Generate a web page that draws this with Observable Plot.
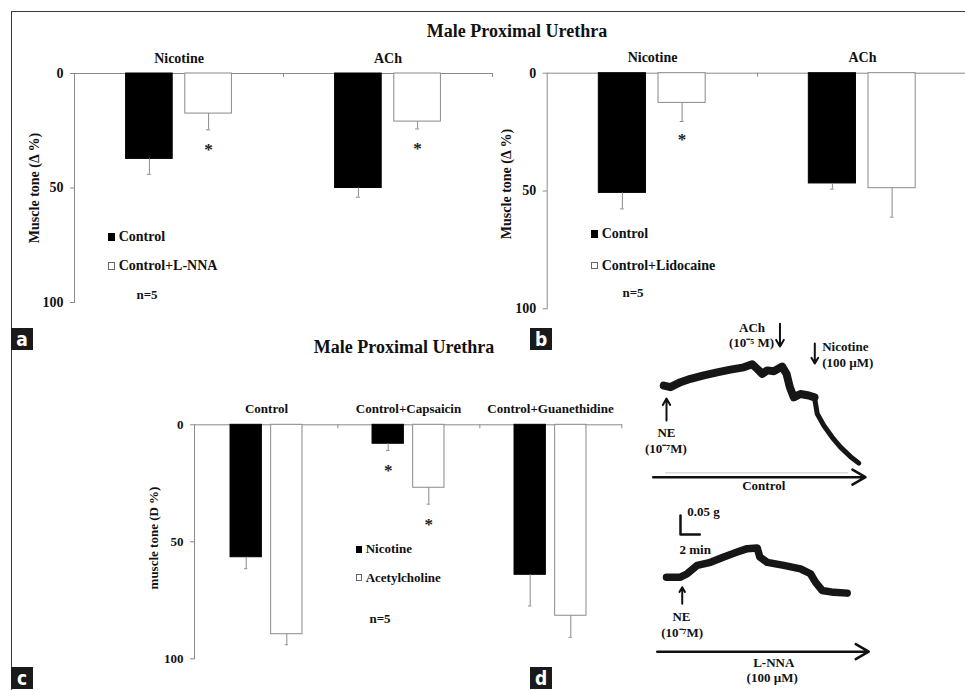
<!DOCTYPE html>
<html><head><meta charset="utf-8">
<script src="https://cdn.jsdelivr.net/npm/d3@7"></script>
<script src="https://cdn.jsdelivr.net/npm/@observablehq/plot@0.6"></script>
<style>
html,body{margin:0;padding:0;background:#fff;}
#fig{position:relative;width:965px;height:690px;overflow:hidden;font-family:"Liberation Serif","Times New Roman",serif;font-weight:bold;color:#111;background:#fff;}
.abs{position:absolute;}
.title{font-size:18px;white-space:nowrap;transform:translate(-50%,-50%);}
.ytitle{white-space:nowrap;transform:translate(-50%,-50%) rotate(-90deg);}
.leg{display:flex;align-items:center;white-space:nowrap;transform:translateY(-50%);}
.ctr{white-space:nowrap;transform:translate(-50%,-50%);}
.sw{display:inline-block;box-sizing:border-box;}
.plab{background:#1a1a1a;color:#fff;font-family:"Liberation Sans Narrow","DejaVu Sans Condensed",Roboto,sans-serif;font-weight:bold;font-size:19px;width:22px;height:22px;text-align:center;line-height:23px;}
</style>
</head><body>
<div id="fig"></div>
<script>
// ---------- Panel a data ----------
const aCategories = ["Nicotine", "ACh"];
const aSeries = ["Control", "Control+L-NNA"];
const aControlMean = [37.3, 50.0];
const aControlSem = [6.7, 4.0];
const aLnnaMean = [17.5, 21.0];
const aLnnaSem = [7.1, 3.2];
const aLnnaStar = [true, true];

// ---------- Panel b data ----------
const bCategories = ["Nicotine", "ACh"];
const bSeries = ["Control", "Control+Lidocaine"];
const bControlMean = [50.8, 46.8];
const bControlSem = [6.8, 2.4];
const bLidoMean = [12.6, 48.8];
const bLidoSem = [7.9, 12.3];
const bLidoStar = [true, false];

// ---------- Panel c data ----------
const cCategories = ["Control", "Control+Capsaicin", "Control+Guanethidine"];
const cSeries = ["Nicotine", "Acetylcholine"];
const cNicMean = [56.6, 8.1, 64.1];
const cNicSem = [4.9, 2.9, 13.3];
const cNicStar = [false, true, false];
const cAchMean = [89.5, 26.9, 81.6];
const cAchSem = [4.5, 7.0, 9.2];
const cAchStar = [false, true, false];

const yTicks = [0, 50, 100];

// ---------- Panel d traces (time in min, tension in g) ----------
const ctrlTime = [0, 0.69, 1.73, 2.77, 4.15, 5.53, 6.91, 8.29, 9.16, 9.68, 10.2, 10.72, 11.4, 12.27, 12.72, 13.06, 13.47, 14.16, 15.03, 15.62, 15.9, 16.58, 17.45, 18.31, 19.35, 20.21];
const ctrlTension = [0.205, 0.201, 0.214, 0.223, 0.232, 0.240, 0.247, 0.253, 0.261, 0.249, 0.236, 0.245, 0.243, 0.255, 0.236, 0.201, 0.174, 0.183, 0.179, 0.174, 0.131, 0.100, 0.069, 0.043, 0.018, 0.001];
const lnnaTime = [0, 1.45, 2.15, 3.18, 4.56, 5.94, 7.33, 8.36, 9.4, 9.67, 10.44, 12.16, 13.89, 14.92, 15.44, 16.13, 17.34, 18.73];
const lnnaTension = [0.043, 0.043, 0.052, 0.074, 0.082, 0.096, 0.109, 0.118, 0.120, 0.096, 0.082, 0.074, 0.065, 0.052, 0.030, 0.008, 0.003, 0.001];
const scaleBarMin = 2;
const scaleBarG = 0.05;

// ---------- helpers ----------
const gray = "#8a8a8a";
const fig = document.getElementById("fig");
function place(el, left, top) { el.style.position = "absolute"; el.style.left = left + "px"; el.style.top = top + "px"; fig.appendChild(el); return el; }
function div(cls, html, left, top, extra) { const d = document.createElement("div"); d.className = "abs " + cls; d.innerHTML = html; if (extra) Object.assign(d.style, extra); return place(d, left, top); }

function rowsOf(categories, series, means, sems, stars) {
  const rows = [];
  series.forEach((s, si) => categories.forEach((c, ci) => rows.push({cat: c, series: s, mean: means[si][ci], sem: sems[si][ci], star: stars[si][ci]})));
  return rows;
}

function barPanel(cfg) {
  const {rows, categories, series, bw, offsets, fs, width, height, mt, mr, mb, ml, starDy, labelPad} = cfg;
  const W = (width - ml - mr) / categories.length;
  const marks = [
    Plot.ruleY([0], {stroke: gray}),
    Plot.frame({anchor: "left", stroke: gray}),
    Plot.ruleX(categories, {x: d => d, y1: 0, y2: 1.7, dx: W / 2, stroke: gray})
  ];
  series.forEach((s, i) => {
    const sub = rows.filter(r => r.series === s);
    const off = offsets[i];
    const filled = i === 0;
    marks.push(
      Plot.barY(sub, {x: "cat", y1: 0, y2: "mean", insetLeft: W / 2 + off - bw / 2, insetRight: W / 2 - off - bw / 2,
        fill: filled ? "#000" : "#fff", stroke: filled ? "#000" : gray, strokeWidth: 1}),
      Plot.ruleX(sub, {x: "cat", y1: "mean", y2: d => d.mean + d.sem, dx: off, stroke: gray}),
      Plot.tickY(sub, {x: "cat", y: d => d.mean + d.sem, insetLeft: W / 2 + off - 2, insetRight: W / 2 - off - 2, stroke: gray}),
      Plot.text(sub.filter(r => r.star), {x: "cat", y: d => d.mean + d.sem, dx: off, dy: starDy, text: () => "*", fontSize: 17, fill: "#222"})
    );
  });
  marks.push(
    Plot.axisX({anchor: "top", tickSize: 0, tickPadding: labelPad, fontSize: fs, fontWeight: "bold", label: null, fill: "#111"}),
    Plot.axisY({ticks: yTicks, tickSize: 4, tickPadding: 7, fontSize: fs, fontWeight: "bold", label: null, stroke: gray, fill: "#111"})
  );
  return Plot.plot({
    width, height, marginTop: mt, marginRight: mr, marginBottom: mb, marginLeft: ml,
    style: "font-family:'Liberation Serif',serif;font-weight:bold;overflow:visible;background:transparent;",
    x: {domain: categories, padding: 0},
    y: {domain: [0, 100], reverse: true},
    marks
  });
}

// ---------- Panel a ----------
place(barPanel({
  rows: rowsOf(aCategories, aSeries, [aControlMean, aLnnaMean], [aControlSem, aLnnaSem], [[false, false], aLnnaStar]),
  categories: aCategories, series: aSeries, bw: 46.6, offsets: [-29.6, 29.6], fs: 14,
  width: 500, height: 275, mt: 33, mr: 8, mb: 13, ml: 74, starDy: 20, labelPad: 11
}), 0, 40);

// ---------- Panel b ----------
place(barPanel({
  rows: rowsOf(bCategories, bSeries, [bControlMean, bLidoMean], [bControlSem, bLidoSem], [[false, false], bLidoStar]),
  categories: bCategories, series: bSeries, bw: 47.3, offsets: [-30.1, 29.6], fs: 14,
  width: 477, height: 283, mt: 32.7, mr: 0, mb: 14.7, ml: 56.7, starDy: 18, labelPad: 11
}), 490, 40);

// ---------- Panel c ----------
place(barPanel({
  rows: rowsOf(cCategories, cSeries, [cNicMean, cAchMean], [cNicSem, cAchSem], [cNicStar, cAchStar]),
  categories: cCategories, series: cSeries, bw: 32, offsets: [-20.3, 20.3], fs: 13,
  width: 530, height: 300, mt: 44.3, mr: 8, mb: 21.7, ml: 94, starDy: 20, labelPad: 11.5
}), 100, 380);

// ---------- Panel d: control trace ----------
const ctrlRows = ctrlTime.map((t, i) => ({t, g: ctrlTension[i]}));
const lnnaRows = lnnaTime.map((t, i) => ({t, g: lnnaTension[i]}));
const split = ctrlTime.indexOf(15.62);
const traceStyle = "font-family:'Liberation Serif',serif;font-weight:bold;overflow:visible;background:transparent;";
const lineOpts = {x: "t", y: "g", stroke: "#161616", strokeLinejoin: "round", strokeLinecap: "round"};

place(Plot.plot({
  width: 325, height: 180, marginLeft: 23.3, marginRight: 106.7, marginTop: 34, marginBottom: 32,
  style: traceStyle,
  x: {domain: [0, 20.21], axis: null}, y: {domain: [0, 0.3], axis: null},
  marks: [
    Plot.ruleY([{g: -0.0245}], {y: "g", x1: 0.18, x2: 19.14, stroke: "#dcdcdc", strokeWidth: 1.5}),
    Plot.arrow([{a: -1.10, b: 20.9, g: -0.036}], {x1: "a", x2: "b", y1: "g", y2: "g", stroke: "#111", strokeWidth: 2.5, headLength: 9}),
    Plot.line(ctrlRows.slice(0, split + 1), {...lineOpts, strokeWidth: 8}),
    Plot.line(ctrlRows.slice(split), {...lineOpts, strokeWidth: 5}),
    Plot.arrow([{t: 0.28, a: 0.113, b: 0.171}, {t: 12.04, a: 0.368, b: 0.308}, {t: 15.65, a: 0.316, b: 0.263}],
      {x1: "t", x2: "t", y1: "a", y2: "b", stroke: "#111", strokeWidth: 2, headLength: 7}),
    Plot.text([{t: 0.28, g: 0.080, s: "NE"}, {t: 0.21, g: 0.039, s: "(10⁻⁷M)"}, {t: 9.14, g: 0.358, s: "ACh"}, {t: 9.09, g: 0.318, s: "(10⁻⁵ M)"}, {t: 10.36, g: -0.060, s: "Control"}],
      {x: "t", y: "g", text: "s", fontSize: 13, fill: "#111"}),
    Plot.text([{t: 16.42, g: 0.306, s: "Nicotine"}, {t: 16.42, g: 0.265, s: "(100 µM)"}],
      {x: "t", y: "g", text: "s", textAnchor: "start", fontSize: 13, fill: "#111"})
  ]
}), 640, 315);

// ---------- Panel d: L-NNA trace ----------
place(Plot.plot({
  width: 325, height: 195, marginLeft: 26, marginRight: 118.3, marginTop: 3, marginBottom: 97,
  style: traceStyle,
  x: {domain: [0, 18.73], axis: null}, y: {domain: [0, 0.25], axis: null},
  marks: [
    Plot.line([{t: 1.45, g: 0.155 + scaleBarG}, {t: 1.45, g: 0.155}, {t: 1.45 + scaleBarMin, g: 0.155}], {x: "t", y: "g", stroke: "#111", strokeWidth: 2.5}),
    Plot.text([{t: 2.15, g: 0.214, s: scaleBarG + " g"}, {t: 1.35, g: 0.116, s: scaleBarMin + " min"}],
      {x: "t", y: "g", text: "s", textAnchor: "start", fontSize: 13, fill: "#111"}),
    Plot.line(lnnaRows, {...lineOpts, strokeWidth: 7.5}),
    Plot.arrow([{t: 1.63, a: -0.027, b: 0.0166}], {x1: "t", x2: "t", y1: "a", y2: "b", stroke: "#111", strokeWidth: 2, headLength: 7}),
    Plot.arrow([{a: -0.96, b: 20.96, g: -0.153}], {x1: "a", x2: "b", y1: "g", y2: "g", stroke: "#111", strokeWidth: 2.5, headLength: 9}),
    Plot.text([{t: 1.55, g: -0.0605, s: "NE"}, {t: 1.62, g: -0.103, s: "(10⁻⁷M)"}, {t: 11.12, g: -0.182, s: "L-NNA"}, {t: 10.95, g: -0.222, s: "(100 µM)"}],
      {x: "t", y: "g", text: "s", fontSize: 13, fill: "#111"})
  ]
}), 640, 495);

// ---------- HTML text: borders, titles, axis titles, legends, panel labels ----------
div("", "", 11, 11, {width: "954px", height: "1px", background: "#3a3a3a"});
div("", "", 11, 11, {width: "1px", height: "679px", background: "#3a3a3a"});
div("title", "Male Proximal Urethra", 517, 31);
div("title", "Male Proximal Urethra", 404, 347);
div("ytitle", "Muscle tone (Δ %)", 35, 187.5, {fontSize: "14px"});
div("ytitle", "Muscle tone (Δ %)", 506.7, 184, {fontSize: "14px"});
div("ytitle", "muscle tone (D %)", 154, 537.5, {fontSize: "13px"});

function legendRow(left, y, label, filled, size, fs) {
  const sw = filled
    ? `<span class="sw" style="width:${size}px;height:${size}px;background:#000;margin-right:3.5px"></span>`
    : `<span class="sw" style="width:${size}px;height:${size}px;background:#fff;border:1px solid #666;margin-right:3.5px"></span>`;
  div("leg", sw + `<span>${label}</span>`, left, y, {fontSize: fs + "px"});
}
legendRow(107.7, 237, aSeries[0], true, 7.5, 14);
legendRow(107.7, 266, aSeries[1], false, 7.5, 14);
div("ctr", "n=5", 147, 295, {fontSize: "13px"});
legendRow(590.7, 234, bSeries[0], true, 7.5, 14);
legendRow(590.7, 265.7, bSeries[1], false, 7.5, 14);
div("ctr", "n=5", 633, 293, {fontSize: "13px"});
legendRow(355.7, 549.3, cSeries[0], true, 6.5, 13);
legendRow(355.7, 577.7, cSeries[1], false, 6.5, 13);
div("ctr", "n=5", 380, 619, {fontSize: "13px"});

div("plab", "a", 11, 328);
div("plab", "b", 530, 328);
div("plab", "c", 11, 667);
div("plab", "d", 530, 667);
</script>
</body></html>
